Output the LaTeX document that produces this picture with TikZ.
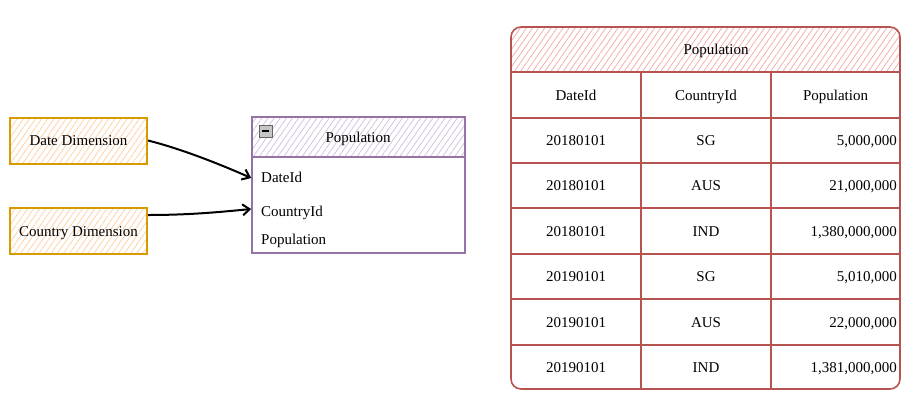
\documentclass[tikz,border=0pt]{standalone}
\usepackage{fontspec}
\setmainfont{Liberation Serif}
\usetikzlibrary{arrows.meta,patterns.meta}
\definecolor{dimline}{HTML}{D79B00}
\definecolor{dimfill}{HTML}{FFD2A8}
\definecolor{tabline}{HTML}{9673A6}
\definecolor{tabfill}{HTML}{D6C2E0}
\definecolor{popline}{HTML}{B85450}
\definecolor{popfill}{HTML}{F2B0AD}
\tikzset{
  hatch/.style={pattern={Lines[angle=55,distance=5pt,line width=0.8pt]},pattern color=#1},
  txt/.style={text height=10pt,text depth=0pt},
  dimbox/.style={draw=dimline,line width=2pt,preaction={hatch=dimfill},txt,
    minimum width=137pt,minimum height=46pt,inner sep=0pt},
  field/.style={anchor=west,inner sep=0pt,txt},
  cell/.style={inner sep=0pt,txt},
  grid/.style={popline,line width=1.6pt},
  link/.style={-{Straight Barb[length=7pt,width=11pt,line width=2pt]},line width=2pt},
}
\begin{document}
\begin{tikzpicture}[x=1pt,y=-1pt,font=\fontsize{15}{18}\selectfont]
\useasboundingbox (0,0) rectangle (913,405);

% dimension boxes
\node[dimbox] (datedim) at (78.5,140.5) {Date Dimension};
\node[dimbox] (countrydim) at (78.5,231) {Country Dimension};

% fact table (purple)
\path[hatch=tabfill] (252,117) rectangle (465,157);
\node[draw=tabline,line width=1.6pt,minimum width=213pt,minimum height=136pt,inner sep=0pt] (poptable) at (358.5,185) {};
\draw[tabline,line width=1.6pt] (poptable.west |- 0,157) -- (poptable.east |- 0,157);
\draw[gray!80!black,fill=gray!45] (259,125) rectangle (272,137);
\draw[line width=1.5pt] (262,131) -- (269,131);
\node[cell] (poptitle) at (358,137) {Population};
\node[field] (fdate) at (261,177) {DateId};
\node[field] (fcountry) at (261,211) {CountryId};
\node[field] (fpop) at (261,239) {Population};

% links
\draw[link] (datedim.east) .. controls (178,148) and (215,162) .. ([yshift=-1pt]poptable.west |- fdate);
\draw[link] ([yshift=-8pt]countrydim.north east) .. controls (190,215) and (220,212) .. ([yshift=2pt]poptable.west |- fcountry);

% data table (red)
\begin{scope}
\clip[rounded corners=10pt] (511,27) rectangle (900,389);
\path[hatch=popfill] (511,27) rectangle (900,72);
\end{scope}
\draw[grid,rounded corners=10pt] (511,27) rectangle (900,389);
\foreach \y in {72,118,163,208,254,299,345}
  \draw[grid] (511,\y) -- (900,\y);
\foreach \x in {641,771}
  \draw[grid] (\x,72) -- (\x,389);

\node[cell] (datatitle) at (716,49) {Population};
\node[cell] (hdate) at (576,95) {DateId};
\node[cell] (hcountry) at (706,95) {CountryId};
\node[cell] (hpop) at (835.5,95) {Population};

\foreach \y/\d/\c/\p [count=\i] in {140/20180101/SG/{5,000,000},
    185/20180101/AUS/{21,000,000},
    231/20180101/IND/{1,380,000,000},
    276/20190101/SG/{5,010,000},
    322/20190101/AUS/{22,000,000},
    367/20190101/IND/{1,381,000,000}}
{
  \node[cell] (date\i) at (576,\y) {\d};
  \node[cell] (country\i) at (706,\y) {\c};
  \node[cell,anchor=east] (pop\i) at (897,\y) {\p};
}
\end{tikzpicture}
\end{document}
